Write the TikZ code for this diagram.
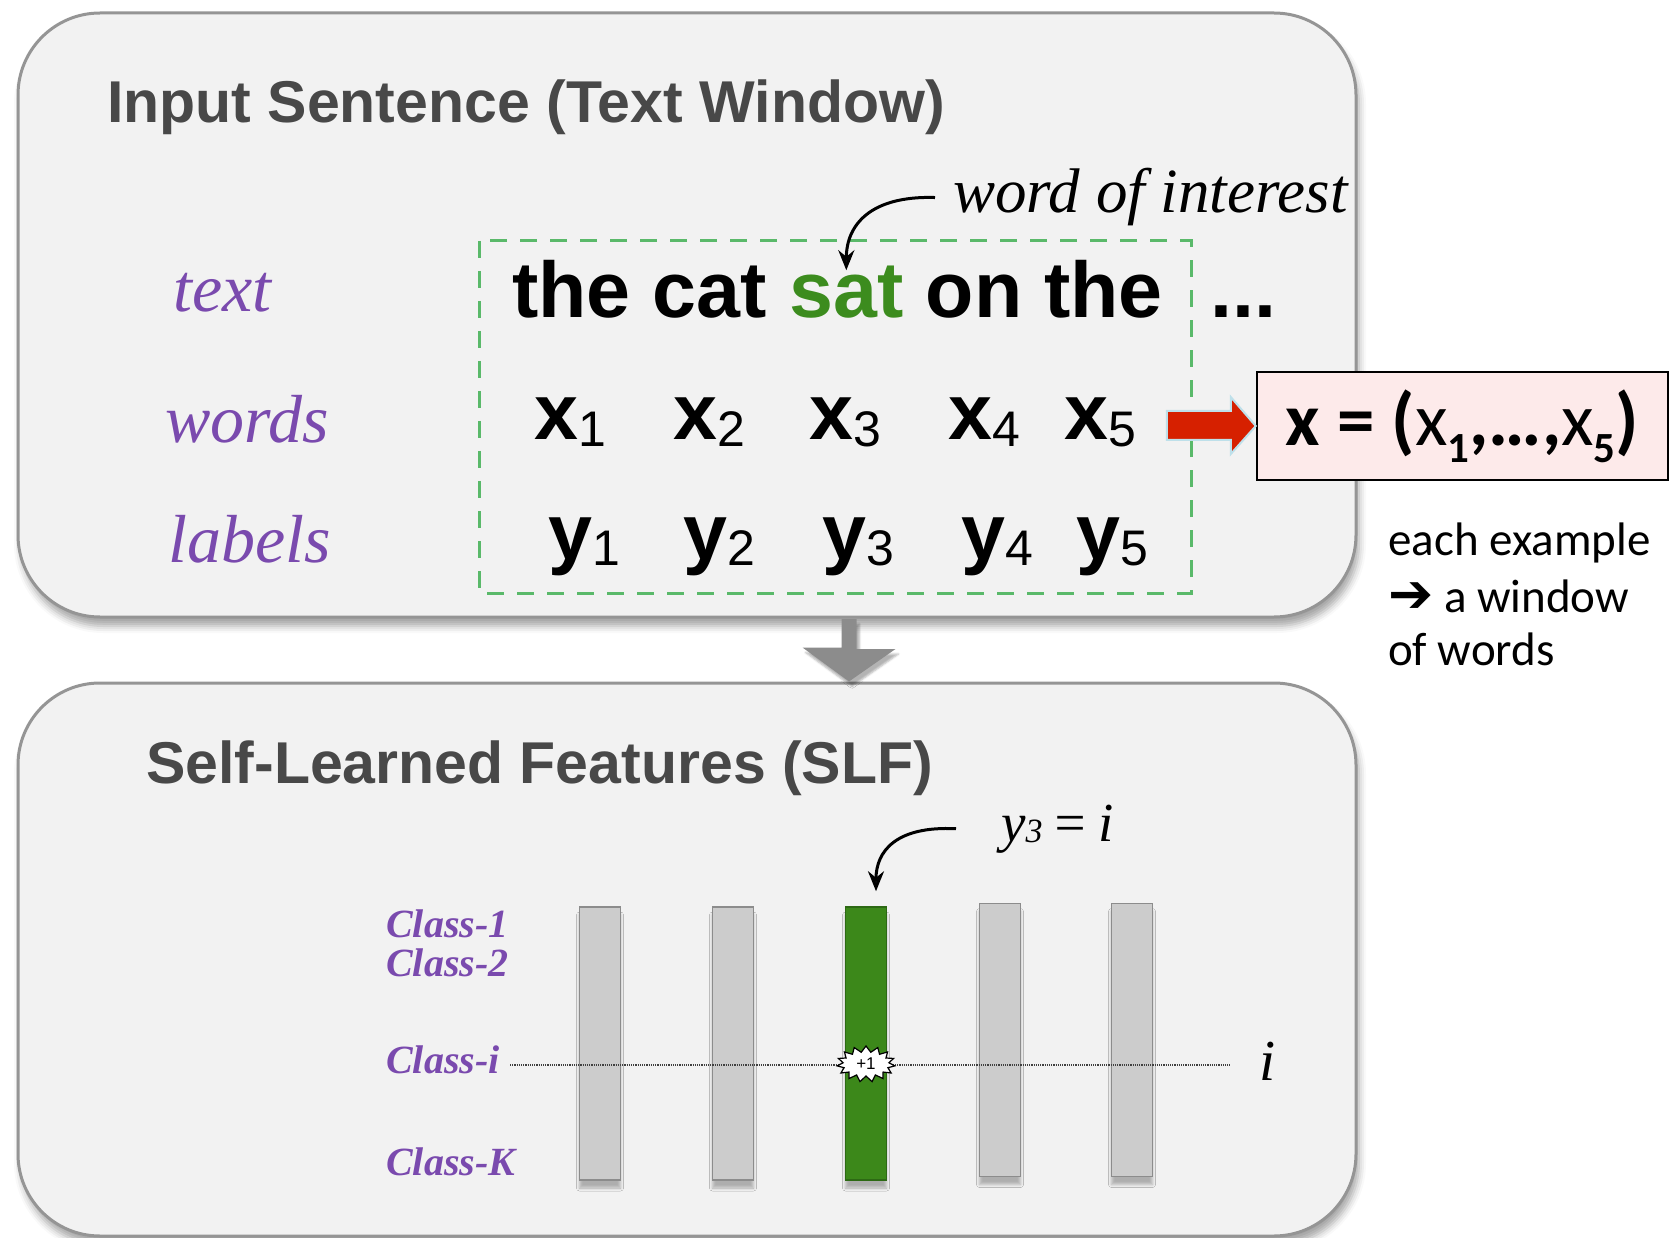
\documentclass[tikz,border=0pt]{standalone}
\usepackage{fontspec}
\setmainfont{Liberation Serif}
\newfontfamily\arialf{Liberation Sans}
\newfontfamily\calibrif{Carlito}
\newfontfamily\symf{DejaVu Sans}
\usetikzlibrary{arrows.meta,positioning,shapes.symbols,shadows.blur}

\definecolor{panelfill}{HTML}{F2F2F2}
\definecolor{panelline}{HTML}{959595}
\definecolor{titlegray}{HTML}{484848}
\definecolor{rowpurple}{RGB}{122,74,174}
\definecolor{windowgreen}{RGB}{90,185,106}
\definecolor{satgreen}{RGB}{60,140,30}
\definecolor{bargreen}{RGB}{60,136,26}
\definecolor{bargreenline}{RGB}{45,105,20}
\definecolor{bargray}{HTML}{CCCCCC}
\definecolor{bargrayline}{HTML}{8C8C8C}
\definecolor{dropgray}{HTML}{8C8C8C}
\definecolor{arrowred}{RGB}{214,32,0}
\definecolor{arrowedge}{RGB}{190,224,234}
\definecolor{boxpink}{RGB}{253,234,234}

% word with a plain-weight index
\newcommand{\wsub}[2]{#1\raisebox{-6pt}{\mdseries\fontsize{50}{50}\selectfont #2}}
% bold index inside the vector box
\newcommand{\vsub}[1]{\raisebox{-17pt}{\bfseries\fontsize{43}{43}\selectfont #1}}

\tikzset{
  txt/.style={inner sep=0pt, anchor=base west},
  panel/.style={draw=panelline, line width=3pt, fill=panelfill, rounded corners=82pt,
    inner sep=0pt, minimum width=1338pt,
    blur shadow={shadow xshift=3pt, shadow yshift=-9pt, shadow blur radius=7pt, shadow opacity=35}},
  paneltitle/.style={font=\arialf\bfseries\fontsize{59}{66}\selectfont, text=titlegray},
  rowlabel/.style={font=\itshape\fontsize{68}{68}\selectfont, text=rowpurple},
  sentence/.style={font=\arialf\bfseries\fontsize{79}{79}\selectfont},
  window/.style={draw=windowgreen, line width=3pt, dash pattern=on 17pt off 13pt},
  pointer/.style={line width=3pt, -{Stealth[length=20pt,width=16pt]}},
  classlabel/.style={font=\bfseries\itshape\fontsize{40}{40}\selectfont, text=rowpurple},
  bar/.style={draw=bargrayline, line width=1.5pt, fill=bargray, minimum width=41pt,
    minimum height=273pt, inner sep=0pt,
    blur shadow={shadow xshift=0pt, shadow yshift=-8pt, shadow blur radius=3pt, shadow opacity=28}},
  notefont/.style={font=\calibrif\fontsize{47}{47}\selectfont},
}

\begin{document}
\begin{tikzpicture}[x=1pt, y=-1pt]
  \useasboundingbox (0,0) rectangle (1674,1238);

  % Two panels and the drop arrow between them
  \node[panel, minimum height=604pt] (inpanel) at (687,315) {};
  \node[panel, minimum height=553pt] (slfpanel) at (687,959.5) {};
  \coordinate (drop) at (849,619);
  \fill[dropgray, blur shadow={shadow xshift=3pt, shadow yshift=-5pt, shadow opacity=30}]
    ([xshift=-7.5pt]drop) -- ([xshift=7.5pt]drop) -- ++(0,30) -- ++(39,0)
    -- (drop |- slfpanel.north) -- ++(-46.5,-34) -- ++(39,0) -- cycle;

  \node[txt, paneltitle] (intitle) at (107,123) {Input Sentence (Text Window)};
  \node[txt, paneltitle] (slftitle) at (146,783) {Self-Learned Features (SLF)};

  % Row names
  \node[txt, rowlabel] (ltext) at (173,312) {text};
  \node[txt, rowlabel] (lwords) at (165,443) {words};
  \node[txt, rowlabel] (llabels) at (168,562) {labels};

  % Text window
  \draw[window] (479,241) rectangle (1191,593);

  \node[txt, sentence] (wcat) at (512,318) {the cat};
  \node[sentence, inner sep=0pt, base right=22pt of wcat, text=satgreen] (wsat) {sat};
  \node[sentence, inner sep=0pt, base right=22pt of wsat] (wonthe) {on the};
  \node[txt, sentence] (wdots) at (1210,318) {...};

  \foreach \wx/\k in {534/1, 673/2, 809/3, 948/4, 1064/5}
    \node[txt, sentence] (x\k) at (\wx,440) {\wsub{x}{\k}};
  \foreach \wx/\k in {548/1, 683/2, 822/3, 961/4, 1076/5}
    \node[txt, sentence] (y\k) at (\wx,559) {\wsub{y}{\k}};

  \node[txt, font=\itshape\fontsize{63}{63}\selectfont] (woi) at (953,213) {word of interest};
  \draw[pointer] ([xshift=-18pt]woi.west) .. controls +(-65,-2) and +(0,-45) .. ([yshift=-4pt]wsat.north);

  % Window as one vector
  \node[draw=black, line width=2.5pt, fill=boxpink, minimum width=411pt, minimum height=108pt,
    inner sep=0pt, font=\calibrif\fontsize{75}{75}\selectfont] (xvec) at (1462.5,426)
    {\textbf{x = (}x\vsub{1}\textbf{,…,}x\vsub{5}\textbf{)}};
  \filldraw[fill=arrowred, draw=arrowedge, line width=2pt]
    (xvec.west) -- ++(-25,-29) -- ++(0,14) -- ++(-64,0) -- ++(0,29) -- ++(64,0) -- ++(0,14) -- cycle;

  \node[txt, notefont] (note1) at (1388,555) {each example};
  \node[txt, notefont] (note2) at (1388,612) {{\symf\bfseries\fontsize{54}{54}\selectfont ➔}\ a window};
  \node[txt, notefont] (note3) at (1388,665) {of words};

  % Class labels and one column per word
  \node[txt, classlabel] (cone) at (386,937) {Class-1};
  \node[txt, classlabel] (ctwo) at (386,976) {Class-2};
  \node[txt, classlabel] (ci) at (386,1073) {Class-i};
  \node[txt, classlabel] (ck) at (386,1175) {Class-K};

  \foreach \bx/\by/\k in {600/1043.5/1, 733/1043.5/2, 1000/1040/4, 1132/1040/5}
    \node[bar] (bar\k) at (\bx,\by) {};
  \node[bar, fill=bargreen, draw=bargreenline] (bar3) at (866,1043.5) {};

  \coordinate (rowstart) at (510,1065);
  \coordinate (rowend) at (1230,1065);
  \draw[densely dotted, line width=1.2pt, black!75] (rowstart) -- (rowend);

  \node[starburst, draw=black, fill=white, line width=1.2pt, minimum width=58pt, minimum height=36pt,
    inner sep=0pt, starburst points=15, starburst point height=6pt, random starburst=0,
    font=\arialf\fontsize{17}{17}\selectfont] (plusone) at (866,1064) {+1};

  \node[txt, font=\itshape\fontsize{58}{58}\selectfont] (ilab) at (1259,1080) {i};
  \node[txt, font=\itshape\fontsize{55}{55}\selectfont] (ylab) at (1001,841)
    {y\raisebox{-1pt}{\fontsize{34}{34}\selectfont 3}\,=\,i};
  \draw[pointer] ([xshift=-45pt]ylab.west) .. controls +(-60,-3) and +(0,-40) .. ([xshift=10pt,yshift=15pt]bar3.north);
\end{tikzpicture}
\end{document}
